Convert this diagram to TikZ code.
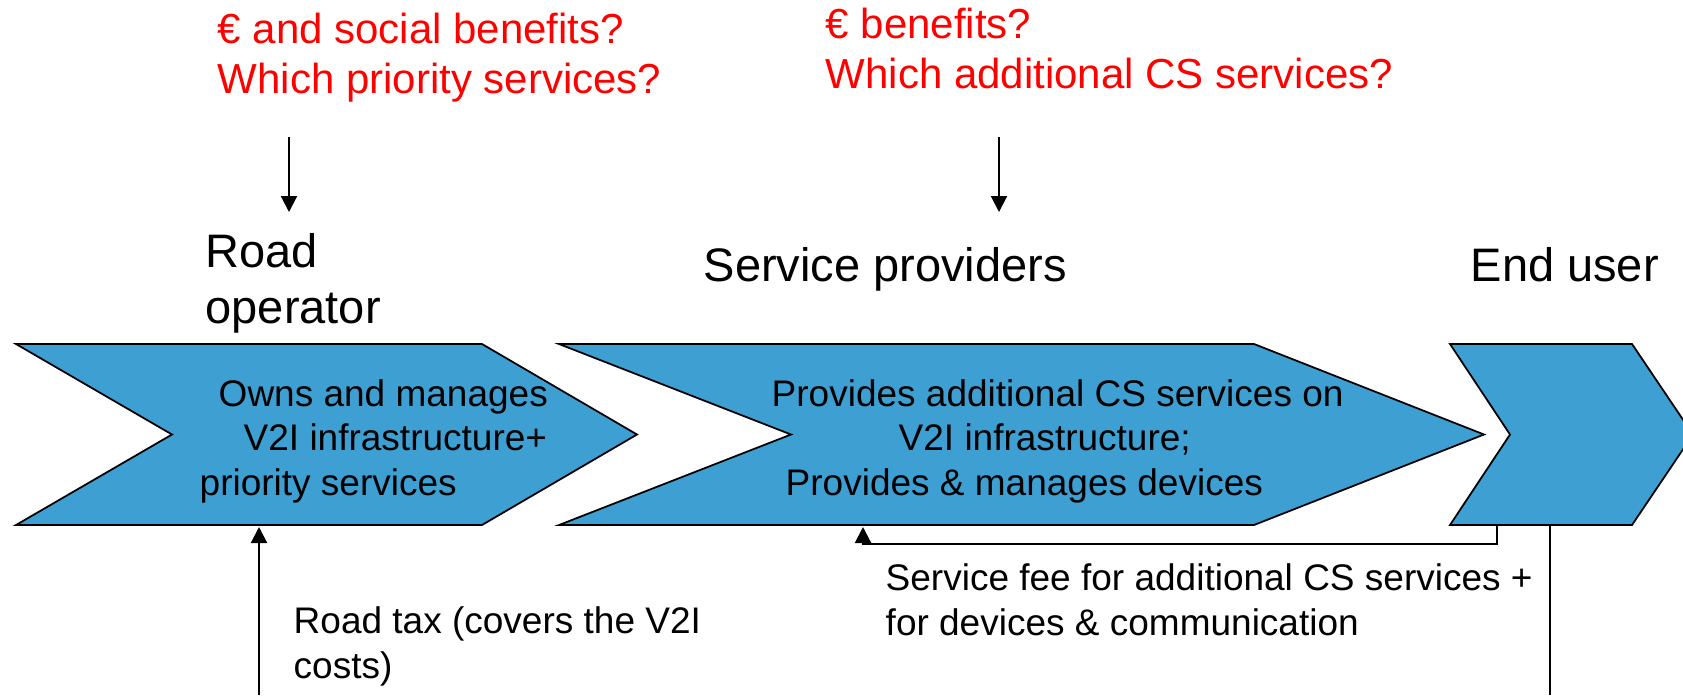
\documentclass[tikz,border=0pt]{standalone}
\usepackage{fontspec}
\setmainfont{Liberation Sans}
\usetikzlibrary{arrows.meta}

\definecolor{chevblue}{RGB}{61,159,210}

\tikzset{
    chevron/.style={fill=chevblue, draw=black, line width=0.5pt},
    flow/.style={line width=0.6pt, -{Triangle[length=1.6mm,width=1.6mm]}},
    plainline/.style={line width=0.6pt},
    question/.style={anchor=base west, inner sep=0pt, align=left, text=red,
        font=\fontsize{11.95}{14.2}\selectfont},
    actor/.style={anchor=base west, inner sep=0pt, align=left,
        font=\fontsize{13.37}{15.9}\selectfont},
    role/.style={anchor=base west, inner sep=0pt, align=left,
        font=\fontsize{10.53}{12.6}\selectfont},
}

\begin{document}
\begin{tikzpicture}
    \useasboundingbox (0,0) rectangle (16.83,-6.95);
    \clip (0,0) rectangle (16.83,-6.95);

    % The three chevrons of the value chain
    \filldraw[chevron] (0.16,-3.44) -- (4.82,-3.44) -- (6.37,-4.345) -- (4.82,-5.25) -- (0.16,-5.25) -- (1.72,-4.345) -- cycle;
    \filldraw[chevron] (5.59,-3.44) -- (12.54,-3.44) -- (14.84,-4.345) -- (12.54,-5.25) -- (5.59,-5.25) -- (7.91,-4.345) -- cycle;
    \filldraw[chevron] (14.50,-3.44) -- (16.32,-3.44) -- (16.93,-4.345) -- (16.32,-5.25) -- (14.50,-5.25) -- (15.10,-4.345) -- cycle;

    % Open questions (red); base sits on the last line
    \node[question] (q1) at (2.17,-0.93) {€ and social benefits?\\Which priority services?};
    \node[question] (q2) at (8.25,-0.88) {€ benefits?\\Which additional CS services?};

    % Actors
    \node[actor] (ro) at (2.05,-3.23) {Road\\operator};
    \node[actor] (sp) at (7.03,-2.81) {Service providers};
    \node[actor] (eu) at (14.70,-2.81) {End user};

    % What each actor does
    \node[role] (ro-role) at (1.99,-4.95) {\hspace*{0.19cm}Owns and manages\\\hspace*{0.44cm}V2I infrastructure+\\priority services};
    \node[role] (sp-role) at (7.71,-4.95) {Provides additional CS services on\\\hspace*{1.27cm}V2I infrastructure;\\\hspace*{0.14cm}Provides \& manages devices};

    % Money flows
    \node[role] (fee) at (8.85,-6.35) {Service fee for additional CS services +\\for devices \& communication};
    \node[role] (tax) at (2.93,-6.78) {Road tax (covers the V2I\\costs)};

    % End points of the arrows
    \coordinate (q1-out) at (2.89,-1.37);
    \coordinate (ro-in) at (2.89,-2.12);
    \coordinate (q2-out) at (9.99,-1.37);
    \coordinate (sp-in) at (9.99,-2.12);
    \coordinate (tax-src) at (2.59,-6.95);
    \coordinate (ro-bot) at (2.59,-5.27);
    \coordinate (eu-fee) at (14.97,-5.25);
    \coordinate (sp-bot) at (8.63,-5.27);
    \coordinate (eu-bot) at (15.50,-5.25);
    \coordinate (eu-out) at (15.50,-6.95);

    \draw[flow] (q1-out) -- (ro-in);
    \draw[flow] (q2-out) -- (sp-in);
    \draw[flow] (tax-src) -- (ro-bot);
    \draw[flow] (eu-fee) -- ++(0,-0.19) -| (sp-bot);
    \draw[plainline] (eu-bot) -- (eu-out);
\end{tikzpicture}
\end{document}
